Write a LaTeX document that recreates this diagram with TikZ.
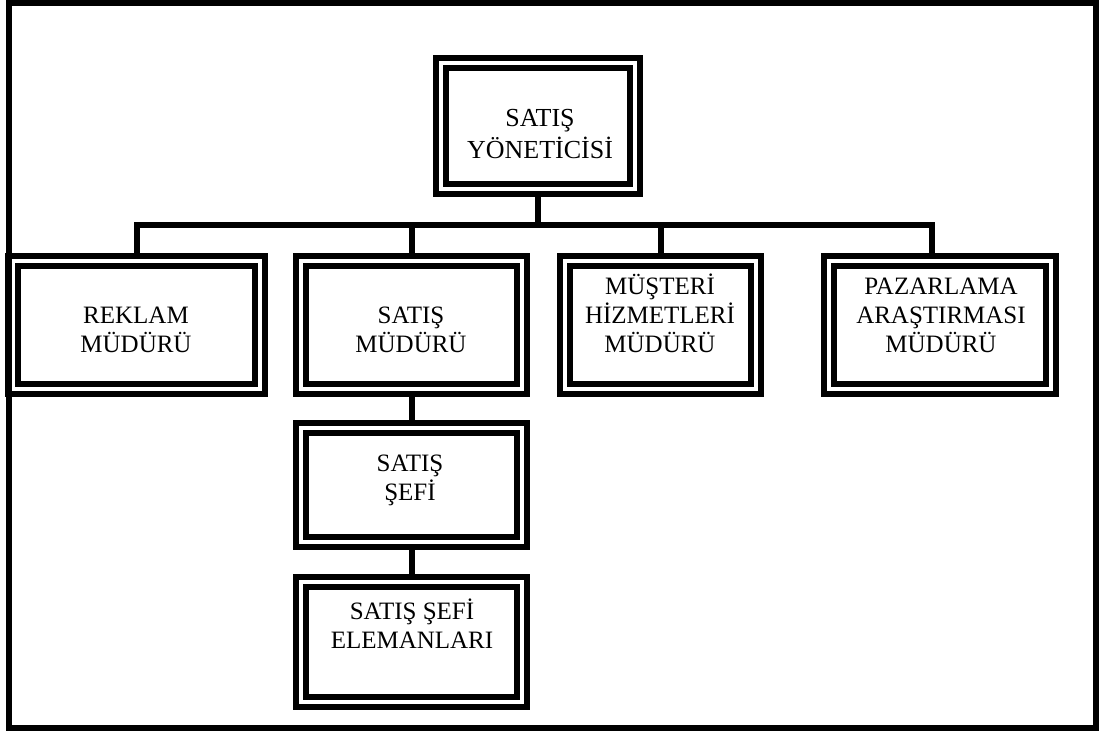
\documentclass[tikz,border=0pt]{standalone}
\usepackage{fontspec}
\setmainfont{Liberation Serif}
\usetikzlibrary{backgrounds}
% centred lines whose baseline is that of the first line
\newcommand\orgtext[1]{\begin{tabular}[t]{@{}c@{}}#1\end{tabular}}
\begin{document}
\begin{tikzpicture}[x=1pt,y=-1pt,
  orgbox/.style={rectangle, draw=black, line width=6pt, double=white,
                 double distance=4pt, inner sep=0pt},
  link/.style={draw=black, line width=6pt},
  boxtext/.style={anchor=base, inner sep=0pt, font=\fontsize{25}{29}\selectfont},
]
\useasboundingbox (0,0) rectangle (1101,731);

% boxes
\node[orgbox, minimum width=194pt, minimum height=126pt] (yon)  at (538,126)   {};
\node[orgbox, minimum width=247pt, minimum height=128pt] (rek)  at (136.5,325) {};
\node[orgbox, minimum width=221pt, minimum height=128pt] (smud) at (411.5,325) {};
\node[orgbox, minimum width=191pt, minimum height=128pt] (mus)  at (660.5,325) {};
\node[orgbox, minimum width=222pt, minimum height=128pt] (paz)  at (940,325)   {};
\node[orgbox, minimum width=221pt, minimum height=114pt] (sefi) at (411.5,485) {};
\node[orgbox, minimum width=221pt, minimum height=120pt] (elem) at (411.5,642) {};

% box titles
\node[boxtext, font=\fontsize{26}{32}\selectfont] (yon-t) at (540,126) {\orgtext{SATIŞ\\YÖNETİCİSİ}};
\node[boxtext] (rek-t)  at (136,323) {\orgtext{REKLAM\\MÜDÜRÜ}};
\node[boxtext] (smud-t) at (411,323) {\orgtext{SATIŞ\\MÜDÜRÜ}};
\node[boxtext] (mus-t)  at (660,294) {\orgtext{MÜŞTERİ\\HİZMETLERİ\\MÜDÜRÜ}};
\node[boxtext] (paz-t)  at (941,294) {\orgtext{PAZARLAMA\\ARAŞTIRMASI\\MÜDÜRÜ}};
\node[boxtext] (sefi-t) at (410,471) {\orgtext{SATIŞ\\ŞEFİ}};
\node[boxtext] (elem-t) at (412,619) {\orgtext{SATIŞ ŞEFİ\\ELEMANLARI}};

% connectors
\begin{scope}[on background layer]
  \coordinate (bus) at (538,225);
  \coordinate (pz) at ([xshift=-8pt]paz.north);
  \draw[link] (yon.south) -- (yon.south |- bus);
  \draw[link] (rek.north) |- (bus -| pz) -- (pz);
  \draw[link] (smud.north) -- (smud.north |- bus);
  \draw[link] (mus.north) -- (mus.north |- bus);
  \draw[link] (smud.south) -- (sefi.north);
  \draw[link] (sefi.south) -- (elem.north);
\end{scope}

% outer frame
\draw[line width=6pt] (9,3) rectangle (1096,728);
\end{tikzpicture}
\end{document}
